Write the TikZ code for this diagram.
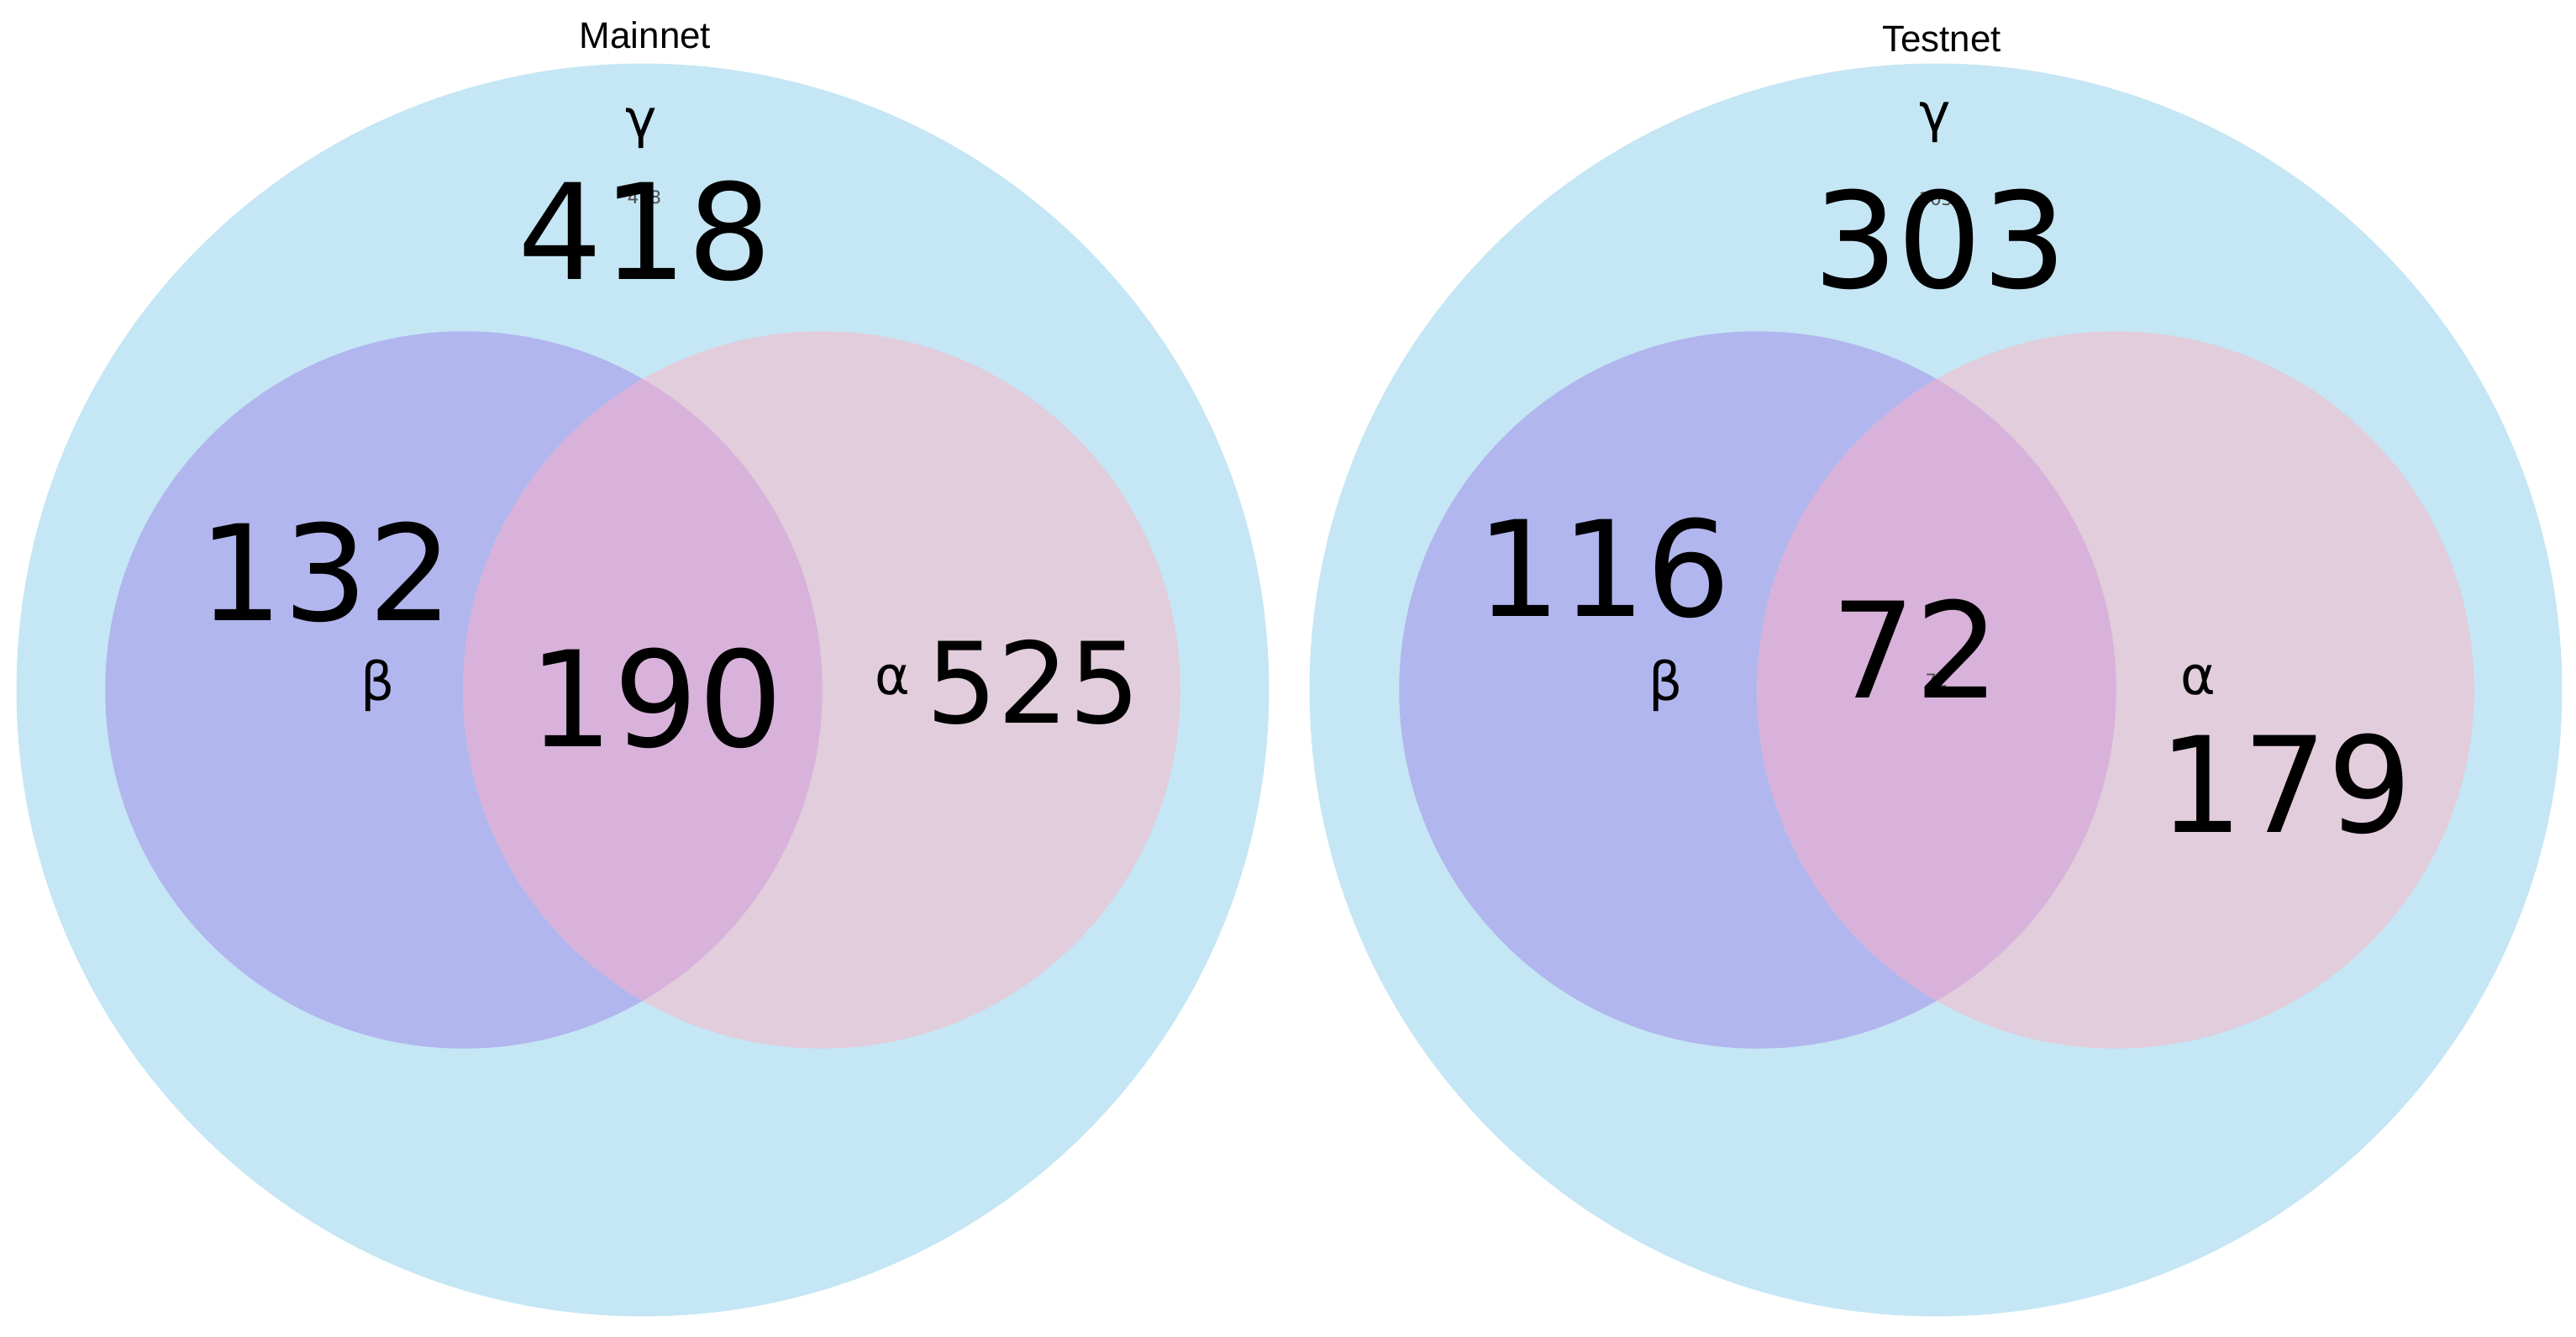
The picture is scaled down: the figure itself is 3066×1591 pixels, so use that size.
\documentclass[tikz,border=0pt]{standalone}
\usepackage{fontspec}
\setmainfont{DejaVu Sans}
\newfontfamily\titlefont{Liberation Sans}
\definecolor{bigc}{RGB}{197,230,244}
\definecolor{betac}{RGB}{177,182,238}
\definecolor{alphac}{RGB}{225,205,220}
\definecolor{bothc}{RGB}{216,178,218}
\tikzset{
  bignum/.style={anchor=base, inner sep=0pt, font=\fontsize{45}{45}\selectfont},
  midnum/.style={anchor=base, inner sep=0pt, font=\fontsize{38}{38}\selectfont},
  greek/.style={anchor=base, inner sep=0pt, font=\fontsize{18}{18}\selectfont},
  tinynum/.style={anchor=base, inner sep=0pt, font=\fontsize{6}{6}\selectfont, text=black!70},
  title/.style={anchor=center, inner sep=0pt, font=\titlefont\fontsize{12.5}{12.5}\selectfont}
}
\begin{document}
\begin{tikzpicture}[x=0.01cm, y=-0.01cm]
\useasboundingbox (0,0) rectangle (3066,1591);
% Mainnet
\fill[bigc] (765,821) circle[radius=7.45cm];
\fill[betac] (552,821) circle[radius=4.265cm];
\fill[alphac] (978,821) circle[radius=4.265cm];
\begin{scope}
\clip (552,821) circle[radius=4.265cm];
\fill[bothc] (978,821) circle[radius=4.265cm];
\end{scope}
% Testnet
\fill[bigc] (2304,821) circle[radius=7.45cm];
\fill[betac] (2092,821) circle[radius=4.265cm];
\fill[alphac] (2518,821) circle[radius=4.265cm];
\begin{scope}
\clip (2092,821) circle[radius=4.265cm];
\fill[bothc] (2518,821) circle[radius=4.265cm];
\end{scope}
% titles
\node[title] (tm) at (768,42) {Mainnet};
\node[title] (tt) at (2311,47) {Testnet};
% Mainnet labels
\node[greek] (gm) at (763,164) {γ};
\node[tinynum] (sm) at (767,243) {418};
\node[bignum] (nm) at (768,333) {418};
\node[bignum] (bm) at (388,738) {132};
\node[greek] (betm) at (450,833) {β};
\node[bignum] (im) at (781,888) {190};
\node[greek] (am) at (1062,826) {α};
\node[midnum] (om) at (1230,860) {525};
% Testnet labels
\node[greek] (gt) at (2303,157) {γ};
\node[tinynum] (st) at (2304,245) {303};
\node[bignum] (nt) at (2309,343) {303};
\node[bignum] (bt) at (1909,733) {116};
\node[greek] (bett) at (1983,833) {β};
\node[tinynum] (si) at (2305,817) {72};
\node[bignum] (it) at (2280,830) {72};
\node[greek] (at) at (2616,826) {α};
\node[bignum] (ot) at (2720,990) {179};
\end{tikzpicture}
\end{document}
